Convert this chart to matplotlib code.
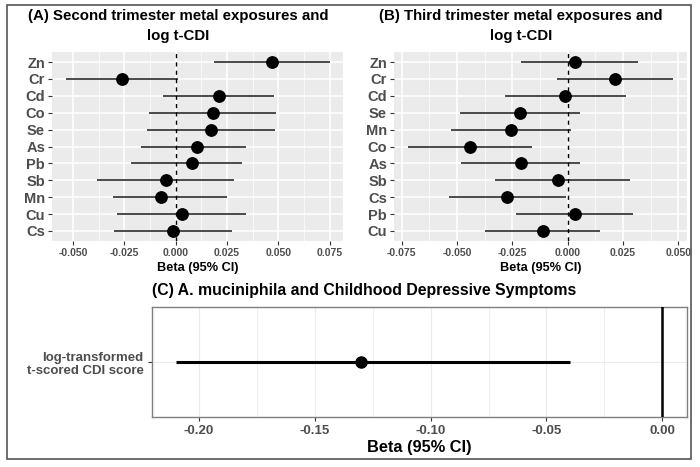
import matplotlib
matplotlib.use("Agg")
import matplotlib.pyplot as plt
from matplotlib.patches import Rectangle
from matplotlib.ticker import MultipleLocator

plt.rcParams["font.family"] = ["Liberation Sans", "DejaVu Sans"]
plt.rcParams["font.weight"] = "bold"

# panel A: second trimester (top to bottom)
metals_a = ["Zn", "Cr", "Cd", "Co", "Se", "As", "Pb", "Sb", "Mn", "Cu", "Cs"]
est_a = [0.047, -0.0261, 0.0212, 0.018, 0.0173, 0.0105, 0.0078, -0.0049, -0.0071, 0.0029, -0.0015]
lo_a = [0.0186, -0.0535, -0.0063, -0.0128, -0.0139, -0.0169, -0.0216, -0.0384, -0.0305, -0.0284, -0.0298]
hi_a = [0.075, 0.001, 0.048, 0.0488, 0.0483, 0.034, 0.0324, 0.0284, 0.0248, 0.034, 0.0272]

# panel B: third trimester (top to bottom)
metals_b = ["Zn", "Cr", "Cd", "Se", "Mn", "Co", "As", "Sb", "Cs", "Pb", "Cu"]
est_b = [0.0033, 0.0215, -0.0011, -0.0214, -0.0256, -0.0441, -0.0212, -0.0045, -0.0273, 0.0033, -0.0113]
lo_b = [-0.0212, -0.005, -0.0285, -0.0486, -0.0526, -0.072, -0.0483, -0.033, -0.0536, -0.0235, -0.0372]
hi_b = [0.0319, 0.0477, 0.0264, 0.0056, 0.0014, -0.0161, 0.0056, 0.0283, -0.0009, 0.0297, 0.0146]

# panel C: A. muciniphila
label_c = ["log-transformed\nt-scored CDI score"]
est_c = [-0.13]
lo_c = [-0.21]
hi_c = [-0.040]

W, H = 700, 467
GRAY_TXT = "#4D4D4D"


def frac_rect(left, top, right, bottom):
    return [left / W, 1 - bottom / H, (right - left) / W, (bottom - top) / H]


def gg_panel(ax, labels, est, lo, hi, xlim, major):
    n = len(labels)
    ys = list(range(n, 0, -1))
    ax.set_facecolor("#EBEBEB")
    ax.hlines(ys, lo, hi, color="#1a1a1a", lw=1.1, zorder=3)
    ax.plot(est, ys, "o", color="black", ms=8.2, zorder=4)
    ax.axvline(0, color="black", ls=(0, (3, 3)), lw=1.0, zorder=3)
    ax.set_xlim(*xlim)
    ax.set_ylim(0.4, n + 0.6)
    ax.set_yticks(ys)
    ax.set_yticklabels(labels, fontsize=10.5, color=GRAY_TXT, fontweight="bold")
    ax.xaxis.set_major_locator(MultipleLocator(major))
    ax.xaxis.set_minor_locator(MultipleLocator(major / 2))
    ax.xaxis.set_major_formatter(matplotlib.ticker.FormatStrFormatter("%.3f"))
    for t in ax.get_xticklabels():
        t.set_fontsize(7.5)
        t.set_color(GRAY_TXT)
        t.set_fontweight("bold")
    ax.grid(which="major", color="white", lw=1.1, zorder=0)
    ax.grid(which="minor", axis="x", color="white", lw=0.5, zorder=0)
    ax.set_axisbelow(True)
    ax.tick_params(which="major", length=3, color="#333333", pad=2)
    ax.tick_params(which="minor", length=0)
    for s in ax.spines.values():
        s.set_visible(False)
    ax.set_xlabel("Beta (95% CI)", fontsize=9.2, fontweight="bold", labelpad=3)


fig = plt.figure(figsize=(W / 100, H / 100), dpi=100)

ax_a = fig.add_axes(frac_rect(52, 52, 343, 241))
gg_panel(ax_a, metals_a, est_a, lo_a, hi_a, (-0.0602, 0.0814), 0.025)
ax_b = fig.add_axes(frac_rect(394, 52, 687, 241))
gg_panel(ax_b, metals_b, est_b, lo_b, hi_b, (-0.0785, 0.0539), 0.025)

fig.text(178 / W, 1 - 26 / H, "(A) Second trimester metal exposures and\nlog t-CDI",
         ha="center", va="center", fontsize=10.8, fontweight="bold", linespacing=1.55)
fig.text(521 / W, 1 - 26 / H, "(B) Third trimester metal exposures and\nlog t-CDI",
         ha="center", va="center", fontsize=10.8, fontweight="bold", linespacing=1.55)

# panel C
ax_c = fig.add_axes(frac_rect(152, 307, 687, 417))
ax_c.set_facecolor("white")
ax_c.hlines([1], lo_c, hi_c, color="black", lw=2.2, zorder=3)
ax_c.plot(est_c, [1], "o", color="black", ms=8, zorder=4)
ax_c.axvline(0, color="black", lw=1.8, zorder=3)
ax_c.set_xlim(-0.2203, 0.0107)
ax_c.set_ylim(0.4, 1.6)
ax_c.set_yticks([1])
ax_c.set_yticklabels(label_c, fontsize=9.5, color=GRAY_TXT, fontweight="bold", linespacing=1.2)
ax_c.xaxis.set_major_locator(MultipleLocator(0.05))
ax_c.xaxis.set_minor_locator(MultipleLocator(0.025))
ax_c.xaxis.set_major_formatter(matplotlib.ticker.FormatStrFormatter("%.2f"))
for t in ax_c.get_xticklabels():
    t.set_fontsize(9.5)
    t.set_color(GRAY_TXT)
    t.set_fontweight("bold")
ax_c.grid(which="major", color="#EBEBEB", lw=0.8, zorder=0)
ax_c.grid(which="minor", axis="x", color="#EBEBEB", lw=0.6, zorder=0)
ax_c.set_axisbelow(True)
ax_c.tick_params(which="major", length=3, color="#333333", pad=3)
ax_c.tick_params(which="minor", length=0)
for s in ax_c.spines.values():
    s.set_color("#7F7F7F")
    s.set_linewidth(1.0)
ax_c.set_xlabel("Beta (95% CI)", fontsize=11.8, fontweight="bold", labelpad=2)
fig.text(152 / W, 1 - 291 / H, "(C) A. muciniphila and Childhood Depressive Symptoms",
         ha="left", va="center", fontsize=11.4, fontweight="bold")

# outer frame
fig.patches.append(Rectangle((7 / W, 1 - 459 / H), 684 / W, 454 / H,
                             transform=fig.transFigure, fill=False,
                             edgecolor="#555555", lw=1.2))

fig.savefig("out.png", dpi=100)
